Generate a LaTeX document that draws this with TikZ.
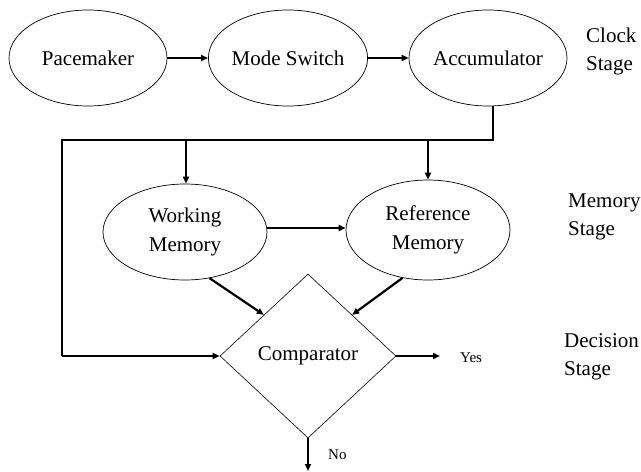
\documentclass[tikz,border=0pt]{standalone}
\usepackage{fontspec}
\setmainfont{Liberation Serif}
\usetikzlibrary{shapes.geometric,arrows.meta,calc}
\begin{document}
\begin{tikzpicture}[x=1pt,y=-1pt,
  oval/.style={draw, ellipse, line width=0.7pt, inner sep=0pt, align=center,
    font=\fontsize{21}{29}\selectfont},
  decide/.style={draw, diamond, line width=0.6pt, inner sep=0pt,
    font=\fontsize{21}{24}\selectfont},
  conn/.style={line width=2.2pt, -{Triangle[length=7pt,width=6pt]}},
  bus/.style={line width=2.2pt},
  stagelabel/.style={anchor=west, align=left, inner sep=0pt, font=\fontsize{21}{28}\selectfont},
  outlabel/.style={inner sep=0pt, font=\fontsize{15}{18}\selectfont}]
\useasboundingbox (0,0) rectangle (641,472);
% clock stage
\node[oval, minimum width=158pt, minimum height=96pt] (pace) at (88,58) {Pacemaker};
\node[oval, minimum width=158pt, minimum height=96pt] (mode) at (288,58) {Mode Switch};
\node[oval, minimum width=158pt, minimum height=96pt] (acc) at (488,58) {Accumulator};
\node[stagelabel] (clk) at (586,51) {Clock\\Stage};
\draw[conn] (pace.east) -- (mode.west);
\draw[conn] (mode.east) -- (acc.west);
% memory stage
\node[oval, minimum width=164pt, minimum height=96pt] (wm) at (185,232) {Working\\Memory};
\node[oval, minimum width=164pt, minimum height=100pt] (rm) at (428,230) {Reference\\Memory};
\node[stagelabel] (mem) at (568,217) {Memory\\Stage};
\draw[conn] (wm.east |- 0,228) -- (rm.west |- 0,228);
% decision stage
\node[decide, minimum width=176pt, minimum height=164pt] (cmp) at (308,356) {Comparator};
\node[stagelabel] (dec) at (564,357) {Decision\\Stage};
% bus
\coordinate (b0) at (493,140);
\coordinate (bl) at (62,140);
\coordinate (bw) at (186,140);
\coordinate (br) at (428,140);
\draw[bus] (acc.south -| b0) -- (b0) -- (bl) -- (62,356) coordinate (bb);
\draw[conn] (bb) -- (cmp.west);
\draw[conn] (bw) -- (wm.north -| bw);
\draw[conn] (br) -- (rm.north);
% into comparator
\draw[conn] (wm.-62) -- ($(cmp.north)!0.5!(cmp.west)$);
\draw[conn] (rm.-118) -- ($(cmp.north)!0.5!(cmp.east)$);
% outputs
\coordinate (yesend) at (440,356);
\draw[conn] (cmp.east) -- (yesend);
\node[outlabel, anchor=west] (yes) at (460,358) {Yes};
\coordinate (noend) at (308,471);
\draw[conn] (cmp.south) -- (noend);
\node[outlabel, anchor=west] (no) at (328,455) {No};
\end{tikzpicture}
\end{document}
